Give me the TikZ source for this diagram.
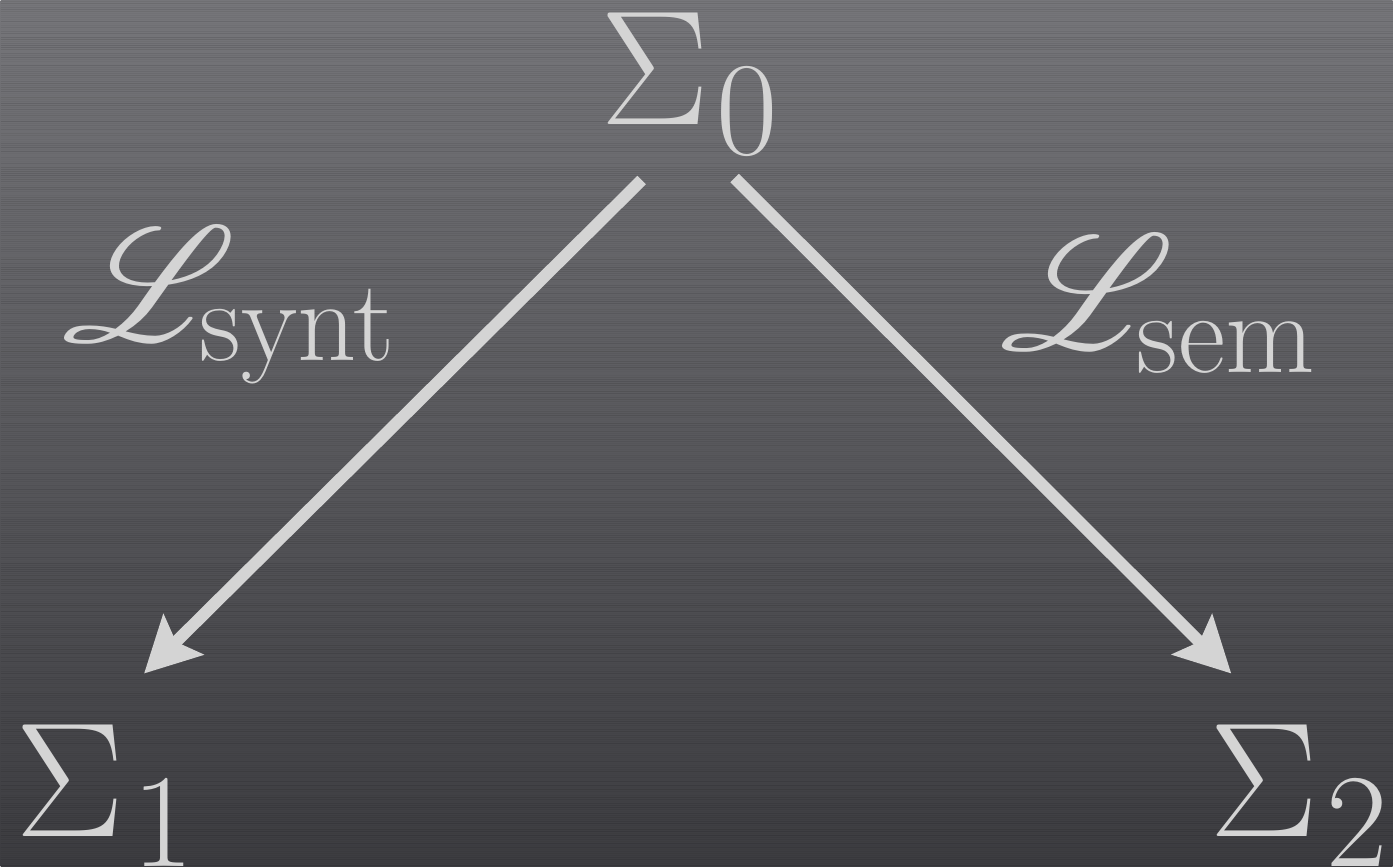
\documentclass[tikz,border=0pt]{standalone}
\usepackage{fix-cm}
\usepackage{amsmath,amssymb}
\usepackage{mathrsfs}
\usepackage{xcolor}
\usepackage{tikz}
\usetikzlibrary{arrows.meta, positioning}
\DeclareFontFamily{U}{rsfs}{\skewchar\font127 }
\DeclareFontShape{U}{rsfs}{m}{n}{<-6>rsfs5<6-8>rsfs7<8->rsfs10}{}
\DeclareMathSizes{93}{93}{76}{55}
\newcommand{\subtext}[2][0cm]{\text{\fontsize{66}{70}\selectfont\kern-0.12cm\raisebox{#1}{#2}}}
\definecolor{lightgray}{RGB}{212, 212, 212}
\definecolor{bgtop}{RGB}{118, 118, 122}
\definecolor{bgbottom}{RGB}{60, 60, 64}

\begin{document}
\begin{tikzpicture}[
    x=0.02cm, y=0.02cm,
    sig/.style={text=lightgray, inner sep=0pt, font=\fontsize{93}{100}\selectfont},
    arrow/.style={-{Stealth[length=1.1cm, width=1.12cm, inset=0.2cm]}, line width=0.24cm, lightgray}
]
% Background
\shade[top color=bgtop, bottom color=bgbottom] (0,0) rectangle (1393,867);
\pgfmathsetseed{7}
\foreach \i in {1,3,...,865}
  \draw[black, line width=0.02cm, opacity=0.12*rnd] (0,\i) -- (1393,\i);
\useasboundingbox (0,0) rectangle (1393,867);

% Signatures
\node[sig, anchor=base west] (s0) at (600,742) {$\Sigma_{\mkern1mu 0}$};
\node[sig, anchor=base west] (s1) at (15,30) {$\Sigma_{\mkern1mu 1}$};
\node[sig, anchor=base west] (s2) at (1210,30) {$\Sigma_{\mkern1mu 2}$};

% Labels
\node[sig, anchor=base west] (synt) at (62,525) {$\mathscr{L}_{\subtext[0.12cm]{synt}}$};
\node[sig, anchor=base west] (sem) at (1000,517) {$\mathscr{L}_{\subtext[0.04cm]{sem}}$};

% Arrows
\draw[arrow] ([shift={(-48,-25)}]s0.south) -- ([shift={(39,51)}]s1.north);
\draw[arrow] ([shift={(45,-23)}]s0.south) -- ([shift={(-68,51)}]s2.north);
\end{tikzpicture}
\end{document}
